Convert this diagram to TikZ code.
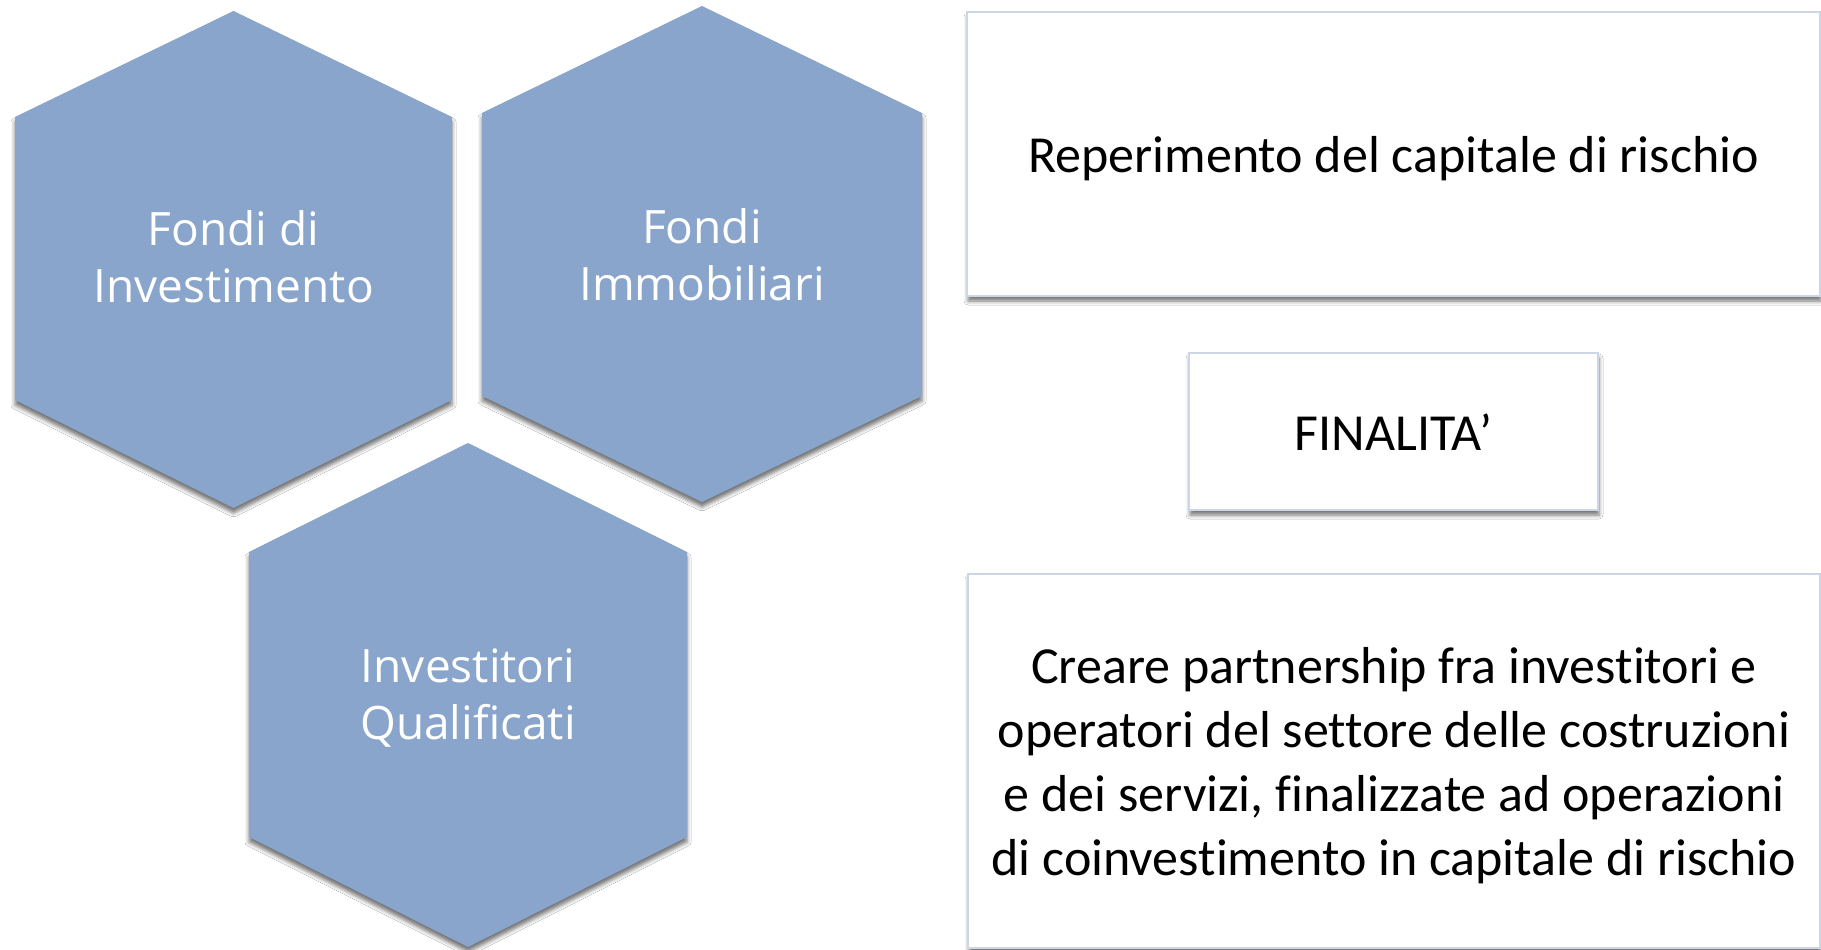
\documentclass[tikz,border=0pt]{standalone}
\usepackage{fontspec}
\setmainfont{Carlito}[Ligatures=NoCommon]
\newfontfamily\hexfont{Open Sans}
\usetikzlibrary{shadows.blur}
\definecolor{hexblue}{RGB}{138,165,203}
\definecolor{boxline}{RGB}{205,214,229}
\begin{document}
\begin{tikzpicture}[x=1pt,y=-1pt,
    hexshape/.style={fill=hexblue,blur shadow={shadow xshift=0pt,shadow yshift=-5pt,shadow blur radius=4pt,shadow opacity=55}},
    hextext/.style={text=white,align=center,font=\hexfont\fontsize{46}{57}\selectfont},
    txtbox/.style={draw=boxline,line width=2.5pt,fill=white,align=center,font=\fontsize{52}{64}\selectfont,
        blur shadow={shadow xshift=1pt,shadow yshift=-5pt,shadow blur radius=4pt,shadow opacity=55}}]
    \useasboundingbox (0,0) rectangle (1821,950);
    \fill[white] (0,0) rectangle (1821,950);

    \fill[hexshape] (233.5,11) -- (452,117) -- (452,400) -- (233.5,508) -- (15,400) -- (15,117) -- cycle;
    \node[hextext] (fondinv) at (233.5,257) {Fondi di\\Investimento};
    \fill[hexshape] (702,6) -- (922,113) -- (922,396) -- (702,502) -- (482,396) -- (482,113) -- cycle;
    \node[hextext] (fondimm) at (702,255) {Fondi\\Immobiliari};
    \fill[hexshape] (468,443) -- (687,552) -- (687,837) -- (468,947) -- (249,837) -- (249,552) -- cycle;
    \node[hextext] (invqual) at (468,698) {Investitori\\Qualificati};

    \node[txtbox,minimum width=853pt,minimum height=284pt,text height=47pt,text depth=10pt] (reperimento) at (1393.5,154) {Reperimento del capitale di rischio};
    \node[txtbox,minimum width=409pt,minimum height=157pt,text height=38pt,text depth=0pt] (finalita) at (1393.5,431.5) {FINALITA’};
    \node[txtbox,minimum width=852pt,minimum height=374pt,text depth=-6pt] (partnership) at (1394,761)
        {Creare partnership fra investitori e\\operatori del settore delle costruzioni\\e dei servizi, finalizzate ad operazioni\\di coinvestimento in capitale di rischio};
\end{tikzpicture}
\end{document}
